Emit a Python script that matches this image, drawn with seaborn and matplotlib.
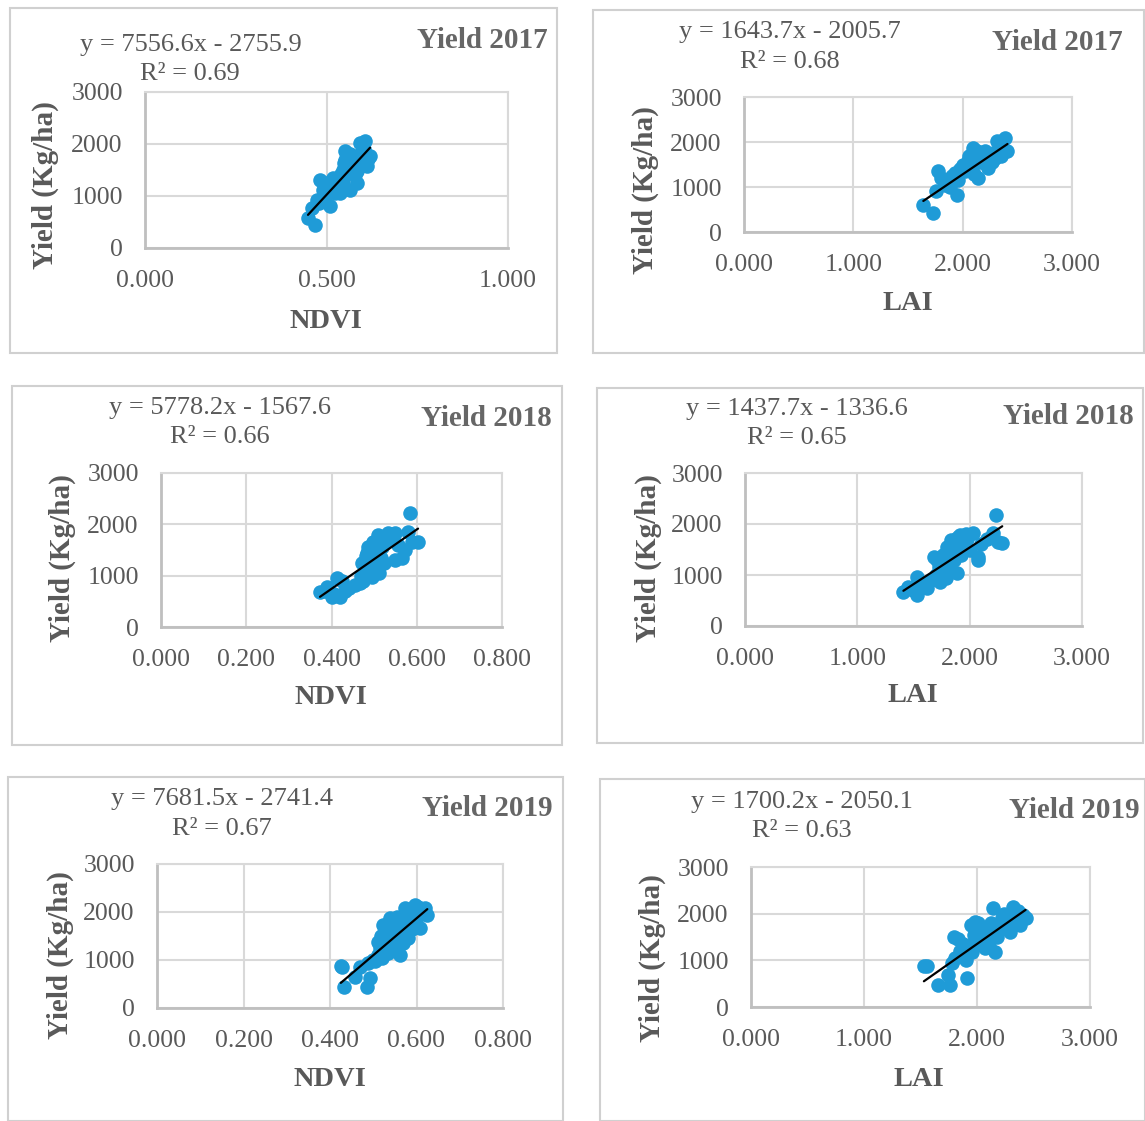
import numpy as np
import pandas as pd
import matplotlib
matplotlib.use("Agg")
import matplotlib.pyplot as plt
from matplotlib.patches import Rectangle
import seaborn as sns

# ---------------- data ----------------
ndvi_2017 = [0.449, 0.468, 0.460, 0.474, 0.482, 0.478, 0.490, 0.501, 0.495, 0.510, 0.505, 0.515, 0.520, 0.528, 0.524,
             0.533, 0.537, 0.540, 0.545, 0.548, 0.551, 0.556, 0.552, 0.560, 0.565, 0.562, 0.570, 0.575, 0.579, 0.584,
             0.587, 0.590, 0.592, 0.596, 0.600, 0.606, 0.611, 0.615, 0.620, 0.545, 0.530, 0.518, 0.566, 0.583, 0.603]
yield_ndvi_2017 = [580, 440, 770, 920, 1308, 870, 1115, 1250, 1000, 800, 1130, 1200, 1280, 1290, 1050,
                   1350, 1050, 1420, 1500, 1640, 1870, 1600, 1700, 1560, 1115, 1450, 1680, 1500, 1400, 1250,
                   1690, 1780, 2020, 1600, 1850, 2060, 1580, 1720, 1770, 1280, 1180, 1350, 1800, 1480, 1900]

lai_2017 = [1.64, 1.73, 1.76, 1.775, 1.80, 1.86, 1.90, 1.95, 1.93, 1.98, 2.00, 2.03, 2.05, 2.07, 2.095, 2.10, 2.12,
            2.14, 2.16, 2.18, 2.20, 2.23, 2.25, 2.27, 2.30, 2.31, 2.35, 2.39, 2.41, 1.88, 1.96, 2.02, 2.08, 2.13,
            2.22, 2.28, 2.33, 1.84, 2.06, 2.17]
yield_lai_2017 = [600, 420, 910, 1355, 1200, 1130, 1250, 820, 1310, 1400, 1500, 1450, 1580, 1650, 1860, 1300, 1750,
                  1200, 1550, 1700, 1800, 1420, 1600, 1550, 1640, 2020, 1700, 2090, 1800, 1000, 1150, 1350, 1480, 1800,
                  1500, 1750, 1850, 1050, 1700, 1650]

ndvi_2018 = [0.373, 0.385, 0.390, 0.400, 0.405, 0.413, 0.420, 0.425, 0.432, 0.440, 0.455, 0.467, 0.470, 0.472, 0.478,
             0.480, 0.484, 0.486, 0.490, 0.492, 0.495, 0.498, 0.500, 0.502, 0.505, 0.509, 0.512, 0.515, 0.519, 0.522,
             0.525, 0.530, 0.533, 0.538, 0.545, 0.549, 0.549, 0.556, 0.565, 0.573, 0.580, 0.585, 0.590, 0.603, 0.488,
             0.497, 0.507, 0.517, 0.475]
yield_ndvi_2018 = [682, 700, 780, 585, 650, 955, 585, 900, 700, 760, 820, 860, 1000, 1250, 1100,
                   1380, 1450, 1560, 1300, 1150, 975, 1650, 1400, 1170, 1550, 1790, 1050, 1700, 1560, 1250,
                   1750, 1800, 1830, 1700, 1750, 1830, 1305, 1600, 1350, 1500, 1850, 2220, 1650, 1660, 1250,
                   1600, 1450, 1350, 900]

lai_2018 = [1.41, 1.45, 1.50, 1.53, 1.53, 1.58, 1.62, 1.66, 1.70, 1.71, 1.73, 1.74, 1.76, 1.78, 1.80, 1.82, 1.83,
            1.84, 1.85, 1.87, 1.88, 1.89, 1.90, 1.91, 1.93, 1.95, 1.97, 2.00, 2.03, 2.07, 2.07, 2.10, 2.15, 2.21,
            2.235, 2.25, 2.29, 1.77, 1.81, 1.86, 1.79, 1.92, 1.68, 1.98]
yield_lai_2018 = [670, 760, 700, 960, 610, 820, 745, 900, 1000, 1300, 1150, 865, 1400, 1250, 1550, 1350, 1690,
                  1450, 1490, 1600, 1700, 1040, 1750, 1780, 1650, 1500, 1800, 1490, 1820, 1290, 1350, 1600, 1700, 1820,
                  2180, 1640, 1630, 1100, 1200, 1300, 950, 1400, 1350, 1700]

ndvi_2019 = [0.425, 0.427, 0.432, 0.458, 0.470, 0.486, 0.488, 0.493, 0.500, 0.505, 0.510, 0.511, 0.515, 0.518, 0.520,
             0.522, 0.525, 0.528, 0.530, 0.533, 0.536, 0.539, 0.542, 0.545, 0.548, 0.550, 0.553, 0.556, 0.558, 0.562,
             0.565, 0.568, 0.570, 0.573, 0.576, 0.580, 0.584, 0.588, 0.592, 0.596, 0.600, 0.604, 0.608, 0.612, 0.616,
             0.620, 0.625, 0.535, 0.545, 0.555, 0.575, 0.590]
yield_ndvi_2019 = [880, 860, 440, 645, 850, 437, 940, 625, 1000, 980, 1100, 1375, 1250, 1500, 1040,
                   1730, 1450, 1600, 1300, 1650, 1800, 1870, 1550, 1700, 1400, 1520, 1650, 1200, 1850, 1100,
                   1600, 1350, 1800, 2080, 1500, 1460, 1950, 1750, 2000, 2145, 1900, 2100, 1670, 2050, 2000,
                   2080, 1940, 1150, 1250, 1900, 1700, 1650]

lai_2019 = [1.53, 1.56, 1.655, 1.74, 1.76, 1.78, 1.80, 1.805, 1.83, 1.85, 1.88, 1.90, 1.91, 1.93, 1.955, 1.97, 1.98,
            2.00, 2.02, 2.04, 2.05, 2.07, 2.08, 2.10, 2.12, 2.14, 2.16, 2.18, 2.20, 2.22, 2.25, 2.27, 2.29, 2.32,
            2.34, 2.36, 2.38, 2.41, 2.43, 1.95, 2.01, 2.06, 2.11, 2.15, 2.24, 1.87]
yield_lai_2019 = [880, 870, 470, 685, 470, 950, 1500, 1050, 1450, 1200, 1350, 1000, 620, 1300, 1180, 1550, 1820,
                  1400, 1700, 1690, 1350, 1260, 1550, 1610, 1800, 2120, 1180, 1500, 1700, 1900, 1690, 1850, 1600, 2140,
                  1950, 2050, 1760, 1970, 1900, 1750, 1800, 1450, 1300, 1650, 2000, 1100]

slopes = [7556.6, 1643.7, 5778.2, 1437.7, 7681.5, 1700.2]
intercepts = [-2755.9, -2005.7, -1567.6, -1336.6, -2741.4, -2050.1]
r2_values = [0.69, 0.68, 0.66, 0.65, 0.67, 0.63]
titles = ["Yield 2017", "Yield 2017", "Yield 2018", "Yield 2018", "Yield 2019", "Yield 2019"]
x_labels = ["NDVI", "LAI", "NDVI", "LAI", "NDVI", "LAI"]
x_ticks_ndvi_2017 = [0.0, 0.5, 1.0]
x_ticks_lai = [0.0, 1.0, 2.0, 3.0]
x_ticks_ndvi = [0.0, 0.2, 0.4, 0.6, 0.8]
y_ticks = [0, 1000, 2000, 3000]

xs = [ndvi_2017, lai_2017, ndvi_2018, lai_2018, ndvi_2019, lai_2019]
ys = [yield_ndvi_2017, yield_lai_2017, yield_ndvi_2018, yield_lai_2018, yield_ndvi_2019, yield_lai_2019]
xticks_all = [x_ticks_ndvi_2017, x_ticks_lai, x_ticks_ndvi, x_ticks_lai, x_ticks_ndvi, x_ticks_lai]

# ---------------- layout (pixels) ----------------
W, H = 1145, 1121
layout = [
    dict(ax=(145, 92, 508, 248), title=(548, 41), eq=(191, 45), r2=(190, 74), xl=(326, 321), yl=(45, 185), box=(10, 8, 557, 353)),
    dict(ax=(744, 97, 1072, 232), title=(1123, 43), eq=(790, 32), r2=(790, 62), xl=(908, 304), yl=(645, 190), box=(593, 10, 1144, 353)),
    dict(ax=(161, 473, 502, 627), title=(552, 419), eq=(220, 408), r2=(220, 437), xl=(331, 698), yl=(62, 558), box=(12, 386, 562, 745)),
    dict(ax=(745, 473, 1082, 626), title=(1134, 417), eq=(797, 409), r2=(797, 438), xl=(913, 695), yl=(648, 558), box=(597, 388, 1143, 743)),
    dict(ax=(157, 864, 503, 1008), title=(553, 809), eq=(222, 799), r2=(222, 829), xl=(330, 1080), yl=(60, 955), box=(8, 777, 563, 1121)),
    dict(ax=(751, 867, 1090, 1007), title=(1140, 811), eq=(802, 802), r2=(802, 831), xl=(919, 1079), yl=(652, 958), box=(600, 779, 1145, 1121)),
]

def fx(p):
    return p / W

def fy(p):
    return 1 - p / H

sns.set_theme(style="white")
plt.rcParams["font.family"] = ["Liberation Serif", "DejaVu Serif"]

TXT = "#595959"
GRID = "#d9d9d9"
DOT = "#1f9bd7"

fig = plt.figure(figsize=(W / 100, H / 100), dpi=100)
fig.patch.set_facecolor("white")

for i in range(6):
    L = layout[i]
    x0, y0, x1, y1 = L["ax"]
    ax = fig.add_axes([fx(x0), fy(y1), (x1 - x0) / W, (y1 - y0) / H])
    df = pd.DataFrame({"x": xs[i], "y": ys[i]})
    sns.scatterplot(data=df, x="x", y="y", ax=ax, s=110, color=DOT, linewidth=0, zorder=3)
    xl = np.array([min(xs[i]), max(xs[i])])
    ax.plot(xl, slopes[i] * xl + intercepts[i], color="black", lw=1.6, zorder=4)

    xt = xticks_all[i]
    ax.set_xlim(xt[0], xt[-1])
    ax.set_ylim(0, 3000)
    ax.set_xticks(xt)
    ax.set_xticklabels([f"{v:.3f}" for v in xt])
    ax.set_yticks(y_ticks)
    ax.set_yticklabels([str(v) for v in y_ticks])
    ax.tick_params(axis="both", length=0, labelsize=18.5, colors=TXT)
    ax.tick_params(axis="x", pad=16)
    ax.tick_params(axis="y", pad=16)
    ax.grid(True, color=GRID, lw=1.5, zorder=0)
    ax.set_axisbelow(True)
    for s in ["left", "bottom"]:
        ax.spines[s].set_color("#bfbfbf")
        ax.spines[s].set_linewidth(2)
    for s in ["top", "right"]:
        ax.spines[s].set_color(GRID)
        ax.spines[s].set_linewidth(1.5)

    ax.set_xlabel(x_labels[i], fontsize=20.5, fontweight="bold", color=TXT, va="center")
    ax.set_ylabel("Yield (Kg/ha)", fontsize=21, fontweight="bold", color=TXT, va="center")
    ax.xaxis.set_label_coords(fx(L["xl"][0]), fy(L["xl"][1]), transform=fig.transFigure)
    ax.yaxis.set_label_coords(fx(L["yl"][0]), fy(L["yl"][1]), transform=fig.transFigure)

    fig.text(fx(L["title"][0]), fy(L["title"][1]), titles[i], ha="right", va="center",
             fontsize=21, fontweight="bold", color="#666666")
    sign = "-" if intercepts[i] < 0 else "+"
    fig.text(fx(L["eq"][0]), fy(L["eq"][1]), f"y = {slopes[i]:.1f}x {sign} {abs(intercepts[i]):.1f}",
             ha="center", va="center", fontsize=19, color=TXT)
    fig.text(fx(L["r2"][0]), fy(L["r2"][1]), f"R² = {r2_values[i]:.2f}",
             ha="center", va="center", fontsize=19, color=TXT)

    bx0, by0, bx1, by1 = L["box"]
    fig.patches.append(Rectangle((fx(bx0), fy(by1)), (bx1 - bx0) / W, (by1 - by0) / H,
                                 transform=fig.transFigure, fill=False, edgecolor="#d0d0d0", lw=1.5))

fig.savefig("out.png", dpi=100, facecolor="white")
